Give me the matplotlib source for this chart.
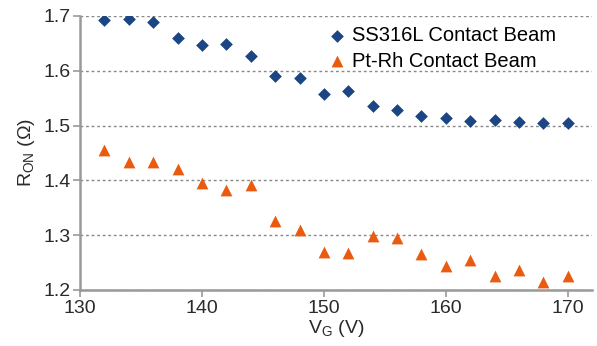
import matplotlib
matplotlib.use("Agg")
import matplotlib.pyplot as plt

vg = [132, 134, 136, 138, 140, 142, 144, 146, 148, 150, 152, 154, 156, 158, 160, 162, 164, 166, 168, 170]
ss316l = [1.693, 1.695, 1.689, 1.659, 1.647, 1.648, 1.627, 1.591, 1.587, 1.557, 1.563, 1.535, 1.529, 1.518,
          1.513, 1.509, 1.511, 1.507, 1.505, 1.505]
ptrh = [1.455, 1.433, 1.434, 1.421, 1.396, 1.382, 1.392, 1.326, 1.309, 1.270, 1.267, 1.299, 1.295, 1.265,
        1.244, 1.255, 1.226, 1.237, 1.215, 1.226]
xticks = [130, 140, 150, 160, 170]
yticks = [1.2, 1.3, 1.4, 1.5, 1.6, 1.7]

plt.rcParams['font.family'] = ['Liberation Sans', 'DejaVu Sans']

fig = plt.figure(figsize=(5.97, 3.46), dpi=100)
ax = fig.add_axes([0.134, 0.162, 0.858, 0.792])

ax.scatter(vg, ss316l, marker='D', s=42, color='#1c4683', label='SS316L Contact Beam', zorder=3, linewidths=0)
ax.scatter(vg, ptrh, marker='^', s=72, color='#ea5a0f', label='Pt-Rh Contact Beam', zorder=3, linewidths=0)

ax.set_xlim(130, 172)
ax.set_ylim(1.2, 1.7)
ax.set_xticks(xticks)
ax.set_yticks(yticks)
ax.set_yticklabels([f"{v:.1f}" for v in yticks])
ax.yaxis.grid(True, linestyle=(0, (2, 2)), color='#888888', linewidth=1.0)
ax.set_axisbelow(True)
for s in ['top', 'right']:
    ax.spines[s].set_visible(False)
for s in ['left', 'bottom']:
    ax.spines[s].set_color('#999999')
    ax.spines[s].set_linewidth(1.8)
ax.tick_params(axis='both', colors='#999999', labelcolor='#2a2a2a', labelsize=14, length=5, width=1.2, pad=2)
ax.set_xlabel('V$_\\mathregular{G}$ (V)', fontsize=14, color='#2a2a2a', labelpad=1)
ax.set_ylabel('R$_\\mathregular{ON}$ (Ω)', fontsize=14, color='#2a2a2a', labelpad=4)

ax.legend(loc='upper left', bbox_to_anchor=(0.474, 0.985), frameon=False,
          fontsize=14.5, handlelength=0.8, handletextpad=0.35, borderpad=0.3,
          labelspacing=0.33, borderaxespad=0)

fig.savefig('out.png', dpi=100)
